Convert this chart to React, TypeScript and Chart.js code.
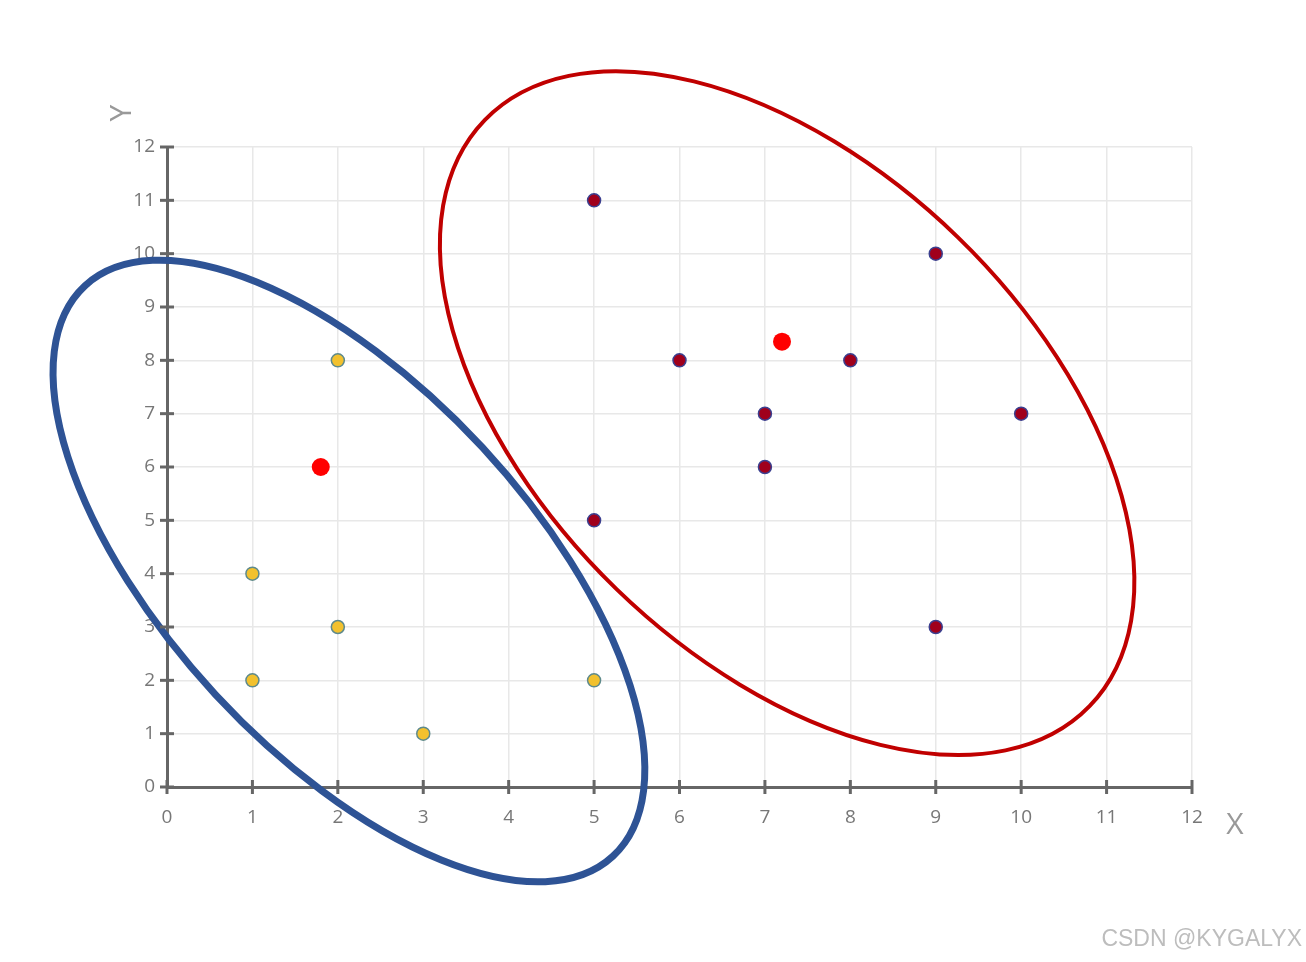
import React, { useEffect, useRef } from "react";
import { Chart, registerables } from "chart.js";

Chart.register(...registerables);

// ---- data ----
const clusterAX = [2, 1, 2, 1, 3, 5];
const clusterAY = [8, 4, 3, 2, 1, 2];
const clusterBX = [5, 9, 6, 8, 7, 10, 7, 5, 9];
const clusterBY = [11, 10, 8, 8, 7, 7, 6, 5, 3];
const centroidX = [1.8, 7.2];
const centroidY = [6.0, 8.35];
const xTicks = [0, 1, 2, 3, 4, 5, 6, 7, 8, 9, 10, 11, 12];
const yTicks = [0, 1, 2, 3, 4, 5, 6, 7, 8, 9, 10, 11, 12];
// ellipses: center (data units), semi-axes in x-axis units, rotation (deg, screen)
const ellipseCenterX = [2.13, 7.26];
const ellipseCenterY = [4.05, 7.01];
const ellipseMajor = [4.55, 4.93];
const ellipseMinor = [2.13, 2.87];
const ellipseAngle = [47.2, 44.1];
const ellipseColors = ["#2E5395", "#C00000"];
const ellipseWidths = [7, 4];

const toPts = (xs: number[], ys: number[]) => xs.map((x, i) => ({ x, y: ys[i] }));

const decorPlugin = {
  id: "decor",
  afterDatasetsDraw(chart: any) {
    const { ctx, scales, chartArea } = chart;
    const xs = scales.x;
    const ys = scales.y;
    const unit = xs.getPixelForValue(1) - xs.getPixelForValue(0);
    ctx.save();
    // ellipses
    for (let i = 0; i < ellipseCenterX.length; i++) {
      ctx.beginPath();
      ctx.ellipse(
        xs.getPixelForValue(ellipseCenterX[i]),
        ys.getPixelForValue(ellipseCenterY[i]),
        ellipseMajor[i] * unit,
        ellipseMinor[i] * unit,
        (ellipseAngle[i] * Math.PI) / 180,
        0,
        Math.PI * 2
      );
      ctx.strokeStyle = ellipseColors[i];
      ctx.lineWidth = ellipseWidths[i];
      ctx.stroke();
    }
    // tick marks crossing axes
    ctx.strokeStyle = "#666666";
    ctx.lineWidth = 3;
    const x0 = xs.getPixelForValue(0);
    const y0 = ys.getPixelForValue(0);
    for (const t of yTicks) {
      const py = ys.getPixelForValue(t);
      ctx.beginPath();
      ctx.moveTo(x0 - 7, py);
      ctx.lineTo(x0 + 7, py);
      ctx.stroke();
    }
    for (const t of xTicks) {
      const px = xs.getPixelForValue(t);
      ctx.beginPath();
      ctx.moveTo(px, y0 - 7);
      ctx.lineTo(px, y0 + 7);
      ctx.stroke();
    }
    // axis titles
    ctx.fillStyle = "#999999";
    ctx.font = "30px 'Open Sans', sans-serif";
    ctx.textAlign = "center";
    ctx.textBaseline = "middle";
    ctx.fillText("X", chartArea.right + 43, y0 + 38);
    ctx.save();
    ctx.translate(chartArea.left - 45, chartArea.top - 34);
    ctx.rotate(-Math.PI / 2);
    ctx.fillText("Y", 0, 0);
    ctx.restore();
    // watermark
    ctx.fillStyle = "#bdbdbd";
    ctx.font = "23px 'Liberation Sans', Arial, sans-serif";
    ctx.textAlign = "right";
    ctx.textBaseline = "middle";
    ctx.fillText("CSDN @KYGALYX", 1302, 940);
    ctx.restore();
  },
};

export default function App() {
  const ref = useRef<HTMLCanvasElement>(null);
  useEffect(() => {
    document.body.style.margin = "0";
    const chart = new Chart(ref.current as HTMLCanvasElement, {
      type: "scatter",
      data: {
        datasets: [
          {
            data: toPts(clusterAX, clusterAY),
            backgroundColor: "#F2C12E",
            borderColor: "#5E8A8C",
            borderWidth: 1.5,
            pointRadius: 6.5,
          },
          {
            data: toPts(clusterBX, clusterBY),
            backgroundColor: "#A0001C",
            borderColor: "#3B3F8F",
            borderWidth: 1.5,
            pointRadius: 6.5,
          },
          {
            data: toPts(centroidX, centroidY),
            backgroundColor: "#FF0000",
            borderColor: "#FF0000",
            borderWidth: 0,
            pointRadius: 9,
          },
        ],
      },
      options: {
        animation: false,
        responsive: false,
        layout: { padding: { top: 147, right: 114, left: 0, bottom: 0 } },
        plugins: { legend: { display: false }, tooltip: { enabled: false } },
        scales: {
          x: {
            type: "linear",
            min: 0,
            max: 12,
            afterFit: (s: any) => {
              s.height = 175;
            },
            afterBuildTicks: (s: any) => {
              s.ticks = xTicks.map((v) => ({ value: v }));
            },
            grid: { color: "#e8e8e8", lineWidth: 1.5, drawTicks: false },
            border: { display: true, color: "#666666", width: 3 },
            ticks: {
              color: "#777777",
              font: { family: "'Open Sans', sans-serif", size: 19 },
              padding: 19,
            },
          },
          y: {
            type: "linear",
            min: 0,
            max: 12,
            afterFit: (s: any) => {
              s.width = 167;
            },
            afterBuildTicks: (s: any) => {
              s.ticks = yTicks.map((v) => ({ value: v }));
            },
            grid: { color: "#e8e8e8", lineWidth: 1.5, drawTicks: false },
            border: { display: true, color: "#666666", width: 3 },
            ticks: {
              color: "#777777",
              font: { family: "'Open Sans', sans-serif", size: 19 },
              padding: 12,
            },
          },
        },
      },
      plugins: [decorPlugin],
    } as any);
    return () => chart.destroy();
  }, []);
  return (
    <div style={{ position: "absolute", left: 0, top: 0, width: 1306, height: 962, background: "#fff" }}>
      <canvas ref={ref} width={1306} height={962} />
    </div>
  );
}
